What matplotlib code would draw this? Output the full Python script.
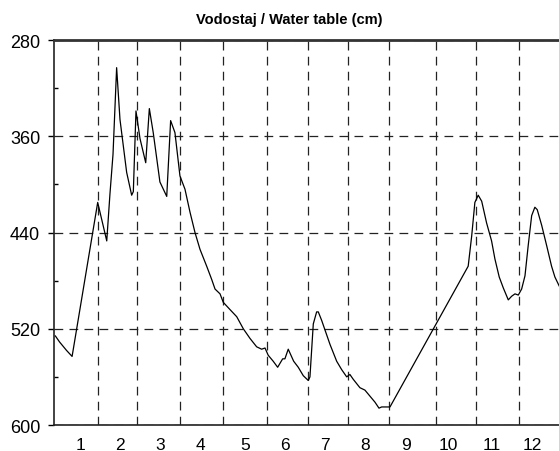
import matplotlib
matplotlib.use("Agg")
import matplotlib.pyplot as plt
from matplotlib.ticker import FixedLocator

plt.rcParams['font.family'] = ['Liberation Sans', 'DejaVu Sans']

# day of year and water table (cm)
days = [1, 4, 9, 13, 31.4, 37.9, 40.2, 42.4, 45, 47.4, 52.2, 55.8, 57, 58.9,
        61.8, 65.9, 68.5, 71.3, 76.1, 81, 83.8, 86.9, 90.5, 94.1, 97.7, 101.3,
        104.9, 109.7, 113.3, 115.7, 119.3, 121.6, 126.4, 131.3, 136, 140.8,
        145.6, 149.2, 151.6, 153.9, 157.5, 160.7, 164.3, 165.9, 168.3, 172.2,
        175.5, 179.1, 182.7, 183.9, 186.3, 188.7, 189.9, 192.3, 198.3, 203.1,
        206.7, 210.3, 212.6, 215, 219.8, 223.4, 227, 230.6, 233.5, 235.4,
        241.4, 297.6, 300.1, 302.4, 304.8, 307.3, 310.8, 314.4, 316.8, 319.9,
        322.8, 326.4, 328.8, 331.2, 333.6, 336, 338.4, 340.7, 343.2, 345.5,
        347.2, 350.4, 354, 357.5, 359.9, 362.8, 365]
level = [526, 531, 538, 543, 415, 447, 408, 375, 303, 346, 390, 409, 406, 339,
         362, 382, 337, 357, 398, 410, 347, 357, 393, 404, 423, 440,
         454, 468, 479, 487, 491, 498, 504, 510, 520, 528,
         535, 537, 536, 542, 547, 552, 545, 545, 537, 547,
         552, 559, 563, 560, 516, 506, 506, 513, 533, 547,
         554, 560, 558, 562, 569, 571, 576, 581, 586, 585,
         585, 468, 443, 415, 409, 414, 432, 447, 462, 477,
         486, 496, 493, 491, 492, 487, 476, 451, 426, 419,
         421, 434, 451, 468, 477, 484, 489]

month_labels = [str(m) for m in range(1, 13)]
y_ticks = [280, 360, 440, 520, 600]

# where the month labels and month separators sit (day of year)
label_pos = [18.7, 47.4, 76.1, 104.9, 137.2, 166, 194.7, 223.4, 252.9, 283,
             314.7, 343.4]
sep_pos = [31.4, 59.8, 90.5, 121.2, 153.2, 182.7, 211.4, 240.9, 274.2, 302.9,
           334.1]

fig = plt.figure(figsize=(5.59, 4.52), dpi=100)
ax = fig.add_axes([54 / 559, 26 / 452, 508 / 559, 385 / 452])

ax.plot(days, level, color='black', linewidth=0.9, zorder=3)

ax.set_xlim(0, 365)
ax.set_ylim(600, 280)

ax.set_xticks(label_pos)
ax.set_xticklabels(month_labels)
ax.xaxis.set_minor_locator(FixedLocator(sep_pos))
ax.tick_params(axis='x', which='both', length=0, labelsize=12.5, pad=9)

ax.set_yticks(y_ticks)
ax.yaxis.set_minor_locator(FixedLocator([320, 400, 480, 560]))
ax.tick_params(axis='y', which='major', direction='out', length=4, width=1,
               labelsize=13, pad=6)
ax.tick_params(axis='y', which='minor', direction='in', length=3, width=1)

dash = dict(color='#222222', linewidth=0.9, linestyle=(0, (7, 5)))
ax.grid(True, axis='x', which='minor', **dash)
ax.grid(True, axis='y', which='major', **dash)
ax.set_axisbelow(True)

for side in ['left', 'bottom']:
    ax.spines[side].set_linewidth(1.2)
    ax.spines[side].set_color('#222222')
ax.spines['top'].set_linewidth(2)
ax.spines['top'].set_color('#333333')
ax.spines['right'].set_visible(False)

fig.text(289.5 / 559, 1 - 20 / 452, 'Vodostaj / Water table (cm)',
         ha='center', va='center', fontsize=10.5, fontweight='bold')

fig.savefig('out.png', dpi=100)
